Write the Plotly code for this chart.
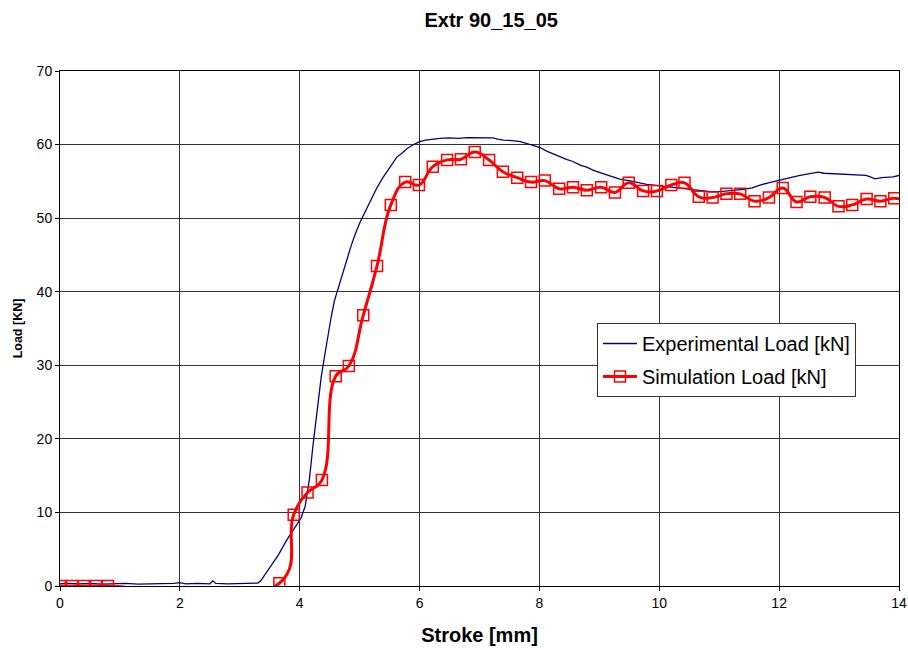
import plotly.graph_objects as go

# ---- data ----
exp_x = [0.0, 0.1, 0.3, 0.5, 0.7, 0.9, 1.1, 1.3, 1.5, 1.7, 1.9, 2.0, 2.1, 2.3, 2.5, 2.55, 2.6, 2.8,
         3.0, 3.2, 3.3, 3.35, 3.42, 3.49, 3.55, 3.65, 3.78, 3.86, 3.94, 4.02, 4.09, 4.16, 4.22, 4.3,
         4.36, 4.42, 4.48, 4.53, 4.58, 4.64, 4.71, 4.78, 4.86, 4.93, 5.0, 5.1, 5.2, 5.28, 5.38, 5.5,
         5.62, 5.7, 5.8, 5.9, 6.0, 6.1, 6.2, 6.34, 6.5, 6.65, 6.79, 6.95, 7.1, 7.23, 7.3, 7.4, 7.55,
         7.68, 7.85, 8.01, 8.12, 8.23, 8.34, 8.45, 8.56, 8.68, 8.8, 8.9, 9.05, 9.2, 9.34, 9.5, 9.65,
         9.79, 9.9, 10.0, 10.2, 10.4, 10.55, 10.68, 10.85, 11.01, 11.2, 11.4, 11.55, 11.68, 11.82,
         11.96, 12.1, 12.24, 12.35, 12.46, 12.55, 12.65, 12.75, 12.9, 13.07, 13.3, 13.45, 13.52,
         13.6, 13.71, 13.8, 13.9, 14.0]
exp_y = [0.3, 0.4, 0.3, 0.35, 0.25, 0.3, 0.35, 0.25, 0.3, 0.25, 0.35, 0.45, 0.3, 0.35, 0.3, 0.7, 0.35, 0.3,
         0.35, 0.3, 0.4, 0.7, 1.5, 2.4, 3.0, 4.3, 6.2, 7.2, 8.1, 9.2, 10.8, 14.4, 19.0, 24.5,
         28.5, 31.5, 34.5, 36.8, 38.8, 40.4, 42.5, 44.3, 46.3, 47.9, 49.3, 51.0, 52.8, 54.0, 55.4, 56.8,
         58.3, 58.8, 59.5, 60.0, 60.4, 60.6, 60.7, 60.85, 60.9, 60.85, 60.95, 60.9, 60.85, 60.9, 60.75, 60.6, 60.55,
         60.4, 60.0, 59.6, 59.1, 58.7, 58.4, 58.0, 57.7, 57.2, 56.9, 56.5, 56.1, 55.7, 55.3, 55.1, 54.8,
         54.6, 54.5, 54.4, 54.2, 54.05, 53.8, 53.7, 53.6, 53.6, 53.7, 53.9, 54.1, 54.5, 54.8,
         55.1, 55.3, 55.6, 55.8, 56.0, 56.1, 56.25, 56.1, 56.05, 56.0, 55.85, 55.8, 55.6,
         55.35, 55.5, 55.55, 55.6, 55.8]

sim_x = [0.0, 0.2, 0.4, 0.6, 0.8, 3.66, 3.90, 4.13, 4.37, 4.60, 4.82, 5.06, 5.29, 5.52, 5.76, 5.99,
         6.22, 6.46, 6.69, 6.92, 7.16, 7.39, 7.63, 7.86, 8.09, 8.33, 8.56, 8.79, 9.03, 9.26, 9.49,
         9.73, 9.96, 10.20, 10.42, 10.66, 10.89, 11.12, 11.35, 11.59, 11.83, 12.06, 12.29, 12.52,
         12.76, 12.99, 13.22, 13.46, 13.69, 13.92, 14.16]
sim_y = [0.0, 0.0, 0.0, 0.0, 0.0, 0.37, 9.7, 12.7, 14.4, 28.5, 29.9, 36.8, 43.5, 51.8, 54.9, 54.5,
         57.0, 57.9, 58.0, 59.0, 57.9, 56.3, 55.5, 54.9, 55.1, 54.0, 54.2, 53.8, 54.2, 53.5, 54.8,
         53.7, 53.7, 54.5, 54.8, 52.9, 52.8, 53.3, 53.3, 52.3, 52.8, 54.1, 52.2, 52.9,
         52.8, 51.6, 51.8, 52.6, 52.3, 52.7, 52.2]

x_ticks = [0, 2, 4, 6, 8, 10, 12, 14]
y_ticks = [0, 10, 20, 30, 40, 50, 60, 70]

FONT = "Liberation Sans, Arial, sans-serif"

fig = go.Figure()
fig.add_trace(go.Scatter(
    x=exp_x, y=exp_y, mode="lines", name="Experimental Load [kN]",
    line=dict(color="#000080", width=1.3), legendgroup="a",
))
fig.add_trace(go.Scatter(
    x=sim_x, y=sim_y, mode="lines+markers", name="Simulation Load [kN]",
    line=dict(color="#ff0000", width=3, shape="spline", smoothing=1.3),
    marker=dict(symbol="square-open", size=11, color="#ff0000", line=dict(width=1.5, color="#ff0000")),
    legendgroup="b",
))

fig.update_layout(
    width=908, height=650,
    margin=dict(l=60, r=9, t=71, b=64, autoexpand=False),
    paper_bgcolor="white", plot_bgcolor="white",
    font=dict(family=FONT, color="black", size=14),
    title=dict(text="<b>Extr 90_15_05</b>", x=0.541, xanchor="center",
               y=1 - 20 / 650, yanchor="middle", font=dict(size=20, family=FONT)),
    showlegend=True,
    legend=dict(x=(597 - 60) / 839, y=(586 - 323) / 515, xanchor="left", yanchor="top",
                bgcolor="white", bordercolor="#333333", borderwidth=1,
                font=dict(size=20, family=FONT), traceorder="grouped", tracegroupgap=4,
                itemwidth=34),
)
fig.update_xaxes(
    range=[0, 14], tickvals=x_ticks, ticktext=[str(v) for v in x_ticks],
    showgrid=True, gridcolor="#333333", gridwidth=1, automargin=False,
    showline=True, linecolor="black", linewidth=1, mirror=True,
    ticks="outside", ticklen=4, tickcolor="black", zeroline=False,
    title=dict(text="<b>Stroke [mm]</b>", font=dict(size=20, family=FONT), standoff=18),
    tickfont=dict(size=14),
)
fig.update_yaxes(
    range=[0, 70], tickvals=y_ticks, ticktext=[str(v) for v in y_ticks],
    showgrid=True, gridcolor="#333333", gridwidth=1, automargin=False,
    showline=True, linecolor="black", linewidth=1, mirror=True,
    ticks="outside", ticklen=4, tickcolor="black", zeroline=False,
    title=dict(text="<b>Load [KN]</b>", font=dict(size=12.5, family=FONT), standoff=11),
    tickfont=dict(size=14),
)

fig.write_html("out.html")
